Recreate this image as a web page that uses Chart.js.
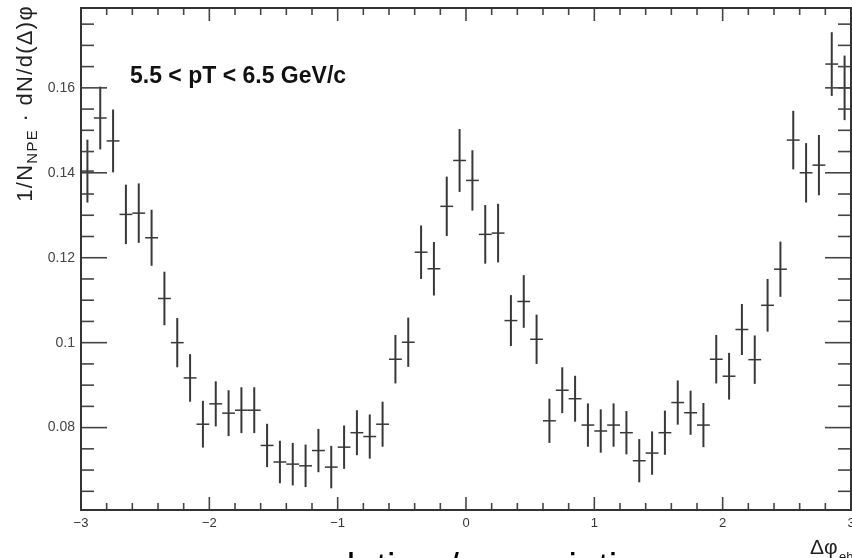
<!DOCTYPE html>
<html>
<head>
<meta charset="utf-8">
<script src="https://cdn.jsdelivr.net/npm/chart.js@4/dist/chart.umd.min.js"></script>
<style>
  html, body { margin: 0; padding: 0; background: #fff; }
  canvas { display: block; }
</style>
</head>
<body>
<canvas id="c" width="852" height="558"></canvas>
<script>
// NPE-hadron Δφ distribution, 5.5 < pT < 6.5 GeV/c
// 60 bins of width 0.1 between -3 and 3
const binWidth = 0.1
const binCenters = [
  -2.95, -2.85, -2.75, -2.65, -2.55, -2.45, -2.35, -2.25, -2.15, -2.05,
  -1.95, -1.85, -1.75, -1.65, -1.55, -1.45, -1.35, -1.25, -1.15, -1.05,
  -0.95, -0.85, -0.75, -0.65, -0.55, -0.45, -0.35, -0.25, -0.15, -0.05,
  0.05, 0.15, 0.25, 0.35, 0.45, 0.55, 0.65, 0.75, 0.85, 0.95,
  1.05, 1.15, 1.25, 1.35, 1.45, 1.55, 1.65, 1.75, 1.85, 1.95,
  2.05, 2.15, 2.25, 2.35, 2.45, 2.55, 2.65, 2.75, 2.85, 2.95,
]
const values = [
  0.1404, 0.1529, 0.1475, 0.1302, 0.1305, 0.1247, 0.1104, 0.1000, 0.0917, 0.0808,
  0.0856, 0.0834, 0.0841, 0.0841, 0.0758, 0.0719, 0.0714, 0.0710, 0.0746, 0.0707,
  0.0754, 0.0788, 0.0779, 0.0808, 0.0961, 0.1001, 0.1213, 0.1174, 0.1321, 0.1429,
  0.1382, 0.1255, 0.1258, 0.1052, 0.1097, 0.1008, 0.0816, 0.0888, 0.0868, 0.0806,
  0.0792, 0.0806, 0.0788, 0.0722, 0.0740, 0.0788, 0.0859, 0.0835, 0.0806, 0.0961,
  0.0921, 0.1031, 0.0960, 0.1088, 0.1173, 0.1477, 0.1400, 0.1418, 0.1656, 0.1600,
]
const errors = [
  0.0074, 0.0074, 0.0074, 0.0070, 0.0070, 0.0066, 0.0063, 0.0058, 0.0056, 0.0055,
  0.0053, 0.0054, 0.0054, 0.0054, 0.0051, 0.0050, 0.0050, 0.0050, 0.0051, 0.0050,
  0.0051, 0.0053, 0.0052, 0.0053, 0.0057, 0.0058, 0.0063, 0.0063, 0.0070, 0.0074,
  0.0071, 0.0069, 0.0069, 0.0060, 0.0062, 0.0058, 0.0052, 0.0054, 0.0054, 0.0051,
  0.0051, 0.0051, 0.0051, 0.0051, 0.0051, 0.0052, 0.0052, 0.0052, 0.0052, 0.0057,
  0.0055, 0.0060, 0.0057, 0.0062, 0.0065, 0.0069, 0.0070, 0.0071, 0.0075, 0.0076,
]

// axes
const xMin = -3, xMax = 3
const yMin = 0.0606, yMax = 0.1788
const xTickValues = [-3, -2, -1, 0, 1, 2, 3]
const xTickLabels = ['\u22123', '\u22122', '\u22121', '0', '1', '2', '3']
const yTickValues = [0.08, 0.1, 0.12, 0.14, 0.16]
const yTickLabels = ['0.08', '0.1', '0.12', '0.14', '0.16']
const xMinorStep = 0.2, yMinorStep = 0.005

const FONT = 'Liberation Sans, Arial, Helvetica, sans-serif'

// ROOT-style histogram: vertical stat error + horizontal bin-width bar
const errorBars = {
  id: 'errorBars',
  afterDatasetsDraw(chart) {
    const { ctx, scales: { x, y } } = chart
    ctx.save()
    ctx.strokeStyle = '#383838'
    binCenters.forEach((c, i) => {
      const px = x.getPixelForValue(c)
      const py = y.getPixelForValue(values[i])
      ctx.lineWidth = 2
      ctx.beginPath()
      ctx.moveTo(px, y.getPixelForValue(values[i] - errors[i]))
      ctx.lineTo(px, y.getPixelForValue(values[i] + errors[i]))
      ctx.stroke()
      ctx.lineWidth = 1.5
      ctx.beginPath()
      ctx.moveTo(x.getPixelForValue(c - binWidth / 2), py)
      ctx.lineTo(x.getPixelForValue(c + binWidth / 2), py)
      ctx.stroke()
    })
    ctx.restore()
  },
}

// frame with inward ticks on all four sides, plus the text
const rootFrame = {
  id: 'rootFrame',
  afterDraw(chart) {
    const { ctx, chartArea: a, scales: { x, y } } = chart
    ctx.save()
    ctx.strokeStyle = '#444'
    ctx.lineWidth = 1.6
    const seg = (x0, y0, x1, y1) => { ctx.beginPath(); ctx.moveTo(x0, y0); ctx.lineTo(x1, y1); ctx.stroke() }

    // x ticks (bottom up, top down)
    for (let v = xMin; v <= xMax + 1e-9; v += xMinorStep) {
      const major = Math.abs(v - Math.round(v)) < 1e-6
      const len = major ? 13 : 7
      const px = x.getPixelForValue(v)
      seg(px, a.bottom, px, a.bottom - len)
      seg(px, a.top, px, a.top + len)
    }
    // y ticks (left and right, inward)
    const first = Math.ceil(yMin / yMinorStep - 1e-6) * yMinorStep
    for (let v = first; v <= yMax + 1e-9; v += yMinorStep) {
      const major = Math.abs(v / 0.02 - Math.round(v / 0.02)) < 1e-6
      const len = major ? 26 : 13
      const py = y.getPixelForValue(v)
      seg(a.left, py, a.left + len, py)
      seg(a.right, py, a.right - len, py)
    }
    ctx.strokeStyle = '#333'
    ctx.lineWidth = 2
    ctx.strokeRect(a.left, a.top, a.right - a.left, a.bottom - a.top)

    // pT bin label
    ctx.fillStyle = '#111'
    ctx.font = `bold 23px ${FONT}`
    ctx.textBaseline = 'alphabetic'
    ctx.textAlign = 'left'
    ctx.fillText('5.5 < pT < 6.5 GeV/c', 130, 83)

    // y title, rotated, right-aligned to the top of the axis
    ctx.save()
    ctx.fillStyle = '#222'
    ctx.translate(32, 5)
    ctx.rotate(-Math.PI / 2)
    ctx.letterSpacing = '1.3px'
    const parts = [
      { t: '1/N', f: `22px ${FONT}`, dy: 0 },
      { t: 'NPE', f: `15px ${FONT}`, dy: 5 },
      { t: ' \u00b7 dN/d(\u0394)\u03c6', f: `22px ${FONT}`, dy: 0 },
    ]
    let total = 0
    for (const p of parts) { ctx.font = p.f; total += ctx.measureText(p.t).width }
    let cx = -total
    for (const p of parts) {
      ctx.font = p.f
      ctx.fillText(p.t, cx, p.dy)
      cx += ctx.measureText(p.t).width
    }
    ctx.restore()

    // x title at the right end of the axis
    ctx.fillStyle = '#222'
    ctx.font = `21px ${FONT}`
    ctx.fillText('\u0394\u03c6', 810, 554)
    ctx.font = `13px ${FONT}`
    ctx.fillText('eh', 839, 561)

    // caption below the plot, cut off by the frame edge
    ctx.fillStyle = '#000'
    ctx.font = `38px ${FONT}`
    ctx.fillText('relation / association', 313, 580)
    ctx.restore()
  },
}

new Chart(document.getElementById('c'), {
  type: 'scatter',
  data: {
    datasets: [{
      data: binCenters.map((c, i) => ({ x: c, y: values[i] })),
      pointRadius: 0,
      showLine: false,
    }],
  },
  options: {
    responsive: false,
    animation: false,
    events: [],
    layout: { padding: { top: 8, right: 1, left: 0, bottom: 0 } },
    plugins: { legend: { display: false }, tooltip: { enabled: false } },
    scales: {
      x: {
        type: 'linear',
        min: xMin,
        max: xMax,
        afterBuildTicks: s => { s.ticks = xTickValues.map(v => ({ value: v })) },
        afterFit: s => { s.height = 48; s.paddingLeft = 0; s.paddingRight = 0 },
        grid: { display: false, drawTicks: false },
        border: { display: false },
        ticks: {
          padding: 6,
          maxRotation: 0,
          color: '#333',
          font: { family: FONT, size: 13 },
          callback: (v, i) => xTickLabels[i],
        },
      },
      y: {
        type: 'linear',
        min: yMin,
        max: yMax,
        afterBuildTicks: s => { s.ticks = yTickValues.map(v => ({ value: v })) },
        afterFit: s => { s.width = 81; s.paddingTop = 0; s.paddingBottom = 0 },
        grid: { display: false, drawTicks: false },
        border: { display: false },
        ticks: {
          padding: 6,
          color: '#444',
          font: { family: FONT, size: 14 },
          callback: (v, i) => yTickLabels[i],
        },
      },
    },
  },
  plugins: [errorBars, rootFrame],
})
</script>
</body>
</html>
